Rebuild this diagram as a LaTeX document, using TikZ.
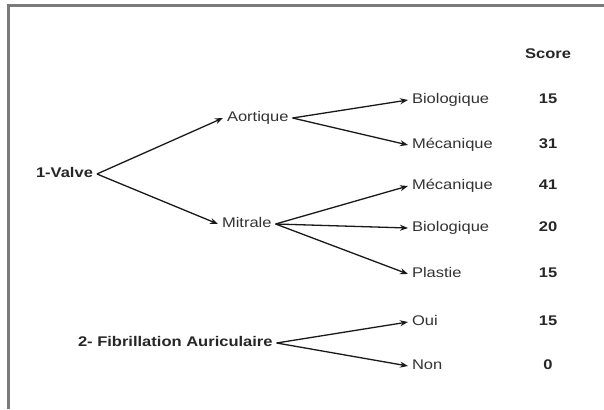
\documentclass[tikz,border=0pt]{standalone}
\usepackage{fontspec}
\setmainfont[FakeStretch=1.18]{Liberation Sans}
\usepackage{xcolor}
\definecolor{ink}{HTML}{333333}
\definecolor{frame}{HTML}{7A7A7A}
\usepackage{tikz}
\usetikzlibrary{arrows.meta, positioning}

\begin{document}
\begin{tikzpicture}[
    x=1pt, y=-1pt,
    font=\fontsize{14}{16}\selectfont,
    >={Stealth[length=8pt, width=6pt]},
    item/.style={inner sep=2pt, outer sep=2pt, text height=0.72em, text depth=0pt, text=ink, anchor=west},
    root/.style={item, font=\fontsize{14}{16}\selectfont\bfseries, text=black!85},
    score/.style={inner sep=2pt, text height=0.72em, text depth=0pt, font=\fontsize{14}{16}\selectfont\bfseries, text=black!85},
    link/.style={->, line width=1.3pt, draw=black!90}
]

% ── Frame ──
\useasboundingbox (0,0) rectangle (604,409);
\fill[white] (0,0) rectangle (604,409);
\draw[frame, line width=2.2pt] (604,5.5) -- (8.5,5.5) -- (8.5,409);

% ── Level 1 ──
\node[root] (valve) at (32,174) {1-Valve};
\node[root] (fa) at (74,343) {2- Fibrillation Auriculaire};

% ── Level 2 ──
\node[item] (aortique) at (223,118) {Aortique};
\node[item] (mitrale) at (218,224) {Mitrale};

% ── Leaves ──
\node[item] (abio) at (408,100) {Biologique};
\node[item] (amec) at (408,145) {Mécanique};
\node[item] (mmec) at (408,186) {Mécanique};
\node[item] (mbio) at (408,228) {Biologique};
\node[item] (mpla) at (408,274) {Plastie};
\node[item] (oui) at (408,322) {Oui};
\node[item] (non) at (408,366) {Non};

% ── Scores ──
\node[score] (hdr) at (548,55) {Score};
\node[score] (sabio) at (548,100) {15};
\node[score] (samec) at (548,145) {31};
\node[score] (smmec) at (548,186) {41};
\node[score] (smbio) at (548,228) {20};
\node[score] (smpla) at (548,274) {15};
\node[score] (soui) at (548,322) {15};
\node[score] (snon) at (548,366) {0};

% ── Branches ──
\draw[link] (valve.east) -- (aortique.west);
\draw[link] (valve.east) -- (mitrale.west);
\draw[link] (aortique.east) -- (abio.west);
\draw[link] (aortique.east) -- (amec.west);
\draw[link] (mitrale.east) -- (mmec.west);
\draw[link] (mitrale.east) -- (mbio.west);
\draw[link] (mitrale.east) -- (mpla.west);
\draw[link] (fa.east) -- (oui.west);
\draw[link] (fa.east) -- (non.west);

\end{tikzpicture}
\end{document}
